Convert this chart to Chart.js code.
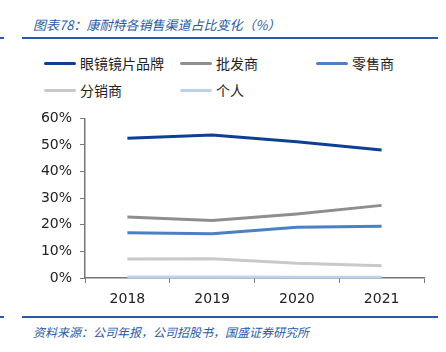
<!DOCTYPE html>
<html>
<head>
<meta charset="utf-8">
<script src="https://cdn.jsdelivr.net/npm/chart.js@4"></script>
<style>
  body { margin: 0; width: 446px; height: 352px; background: #fff; position: relative; overflow: hidden;
         font-family: "Noto Sans CJK SC", sans-serif; }
  .title { position: absolute; left: 33px; top: 15px; font-size: 13px; font-style: italic; color: #2a5aa6; }
  .rule { position: absolute; height: 2px; background: #2a5aa6; }
  .src { position: absolute; left: 33px; top: 323px; font-size: 12px; font-style: italic; color: #2a5aa6; }
  .lg { position: absolute; font-size: 14px; color: #222; display: flex; align-items: center; }
  .lg i { display: inline-block; width: 32px; height: 3px; margin-right: 4px; border-radius: 2px; }
  #wrap { position: absolute; left: 0; top: 102px; width: 446px; height: 213px; }
</style>
</head>
<body>
<div class="title">图表78：康耐特各销售渠道占比变化（%）</div>
<div class="rule" style="left:0;top:37px;width:4px"></div>
<div class="rule" style="left:22px;top:37px;width:416px"></div>
<div id="legend"></div>
<div id="wrap"><canvas id="c"></canvas></div>
<div class="rule" style="left:0;top:316px;width:4px"></div>
<div class="rule" style="left:22px;top:316px;width:416px"></div>
<div class="src">资料来源：公司年报，公司招股书，国盛证券研究所</div>
<script>
const years = ['2018', '2019', '2020', '2021'];
const seriesNames = ['眼镜镜片品牌', '批发商', '零售商', '分销商', '个人'];
const brand = [52.5, 53.8, 51.2, 48.1];
const wholesale = [22.9, 21.6, 24.1, 27.3];
const retail = [17.0, 16.6, 19.1, 19.5];
const distributor = [7.1, 7.2, 5.5, 4.6];
const individual = [0.4, 0.4, 0.3, 0.3];

const colors = ['#0d3f94', '#8e8e8e', '#4b7fc6', '#c9c9c9', '#bdd1ee'];
const values = [brand, wholesale, retail, distributor, individual];
const legendPos = [[44, 63], [180, 63], [316, 63], [44, 90], [180, 90]];

const lg = document.getElementById('legend');
seriesNames.forEach((n, i) => {
  const d = document.createElement('div');
  d.className = 'lg';
  d.style.left = legendPos[i][0] + 'px';
  d.style.top = (legendPos[i][1] - 10) + 'px';
  d.innerHTML = '<i style="background:' + colors[i] + '"></i>' + n;
  lg.appendChild(d);
});

new Chart(document.getElementById('c'), {
  type: 'line',
  data: {
    labels: years,
    datasets: seriesNames.map((n, i) => ({
      label: n,
      data: values[i],
      borderColor: colors[i],
      borderWidth: 3,
      pointRadius: 0,
      tension: 0,
    })),
  },
  options: {
    responsive: true,
    maintainAspectRatio: false,
    animation: false,
    layout: { padding: { top: 4, right: 22, left: 0, bottom: 0 } },
    plugins: { legend: { display: false }, tooltip: { enabled: false } },
    scales: {
      x: {
        offset: true,
        grid: { offset: true, drawOnChartArea: false, drawTicks: true, tickLength: 5, color: '#777' },
        border: { color: '#777', width: 1.5 },
        ticks: { color: '#222', font: { size: 14, family: 'DejaVu Sans' }, padding: 8 },
        afterFit: (s) => { s.height = 37; },
      },
      y: {
        min: 0,
        max: 60,
        ticks: { stepSize: 10, color: '#222', font: { size: 14, family: 'DejaVu Sans' }, padding: 8,
                 callback: (v) => v + '%' },
        grid: { drawOnChartArea: false, drawTicks: true, tickLength: 5, color: '#777' },
        border: { color: '#777', width: 1.5 },
        afterFit: (s) => { s.width = 85; },
      },
    },
  },
});
</script>
</body>
</html>
